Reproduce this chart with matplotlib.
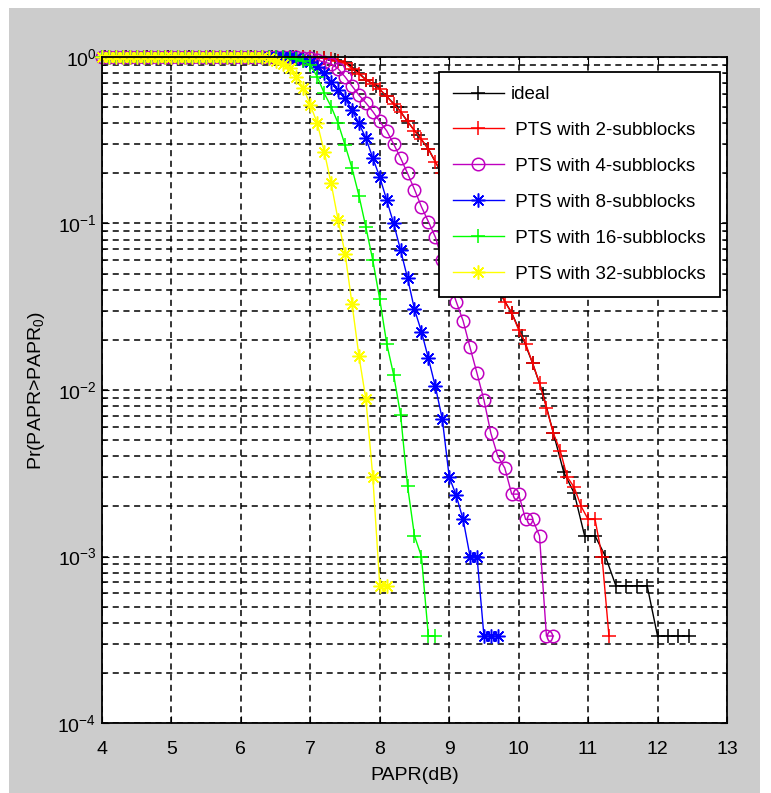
import numpy as np
import matplotlib
matplotlib.use("Agg")
import matplotlib.pyplot as plt
from matplotlib.patches import Rectangle

plt.rcParams['font.family'] = ['Liberation Sans', 'DejaVu Sans']
plt.rcParams['mathtext.default'] = 'regular'

## data (x in dB, y = Pr(PAPR>PAPR0))
# ideal curve: sampled every 0.15 dB
ideal_x = np.round(np.arange(4.05, 12.5, 0.15), 2)
ideal_y = [1.0] * 20 + [
    0.995, 0.985, 0.965, 0.935, 0.84, 0.73, 0.67, 0.58, 0.50, 0.41,
    0.34, 0.28, 0.215, 0.17, 0.13, 0.097, 0.072, 0.052, 0.037, 0.029,
    0.021, 0.0145, 0.0095, 0.0055, 0.0032, 0.0024, 0.00133, 0.00133, 0.001,
    6.67e-4, 6.67e-4, 6.67e-4, 6.67e-4, 3.33e-4, 3.33e-4, 3.33e-4, 3.33e-4]

# PTS curves: sampled every 0.1 dB starting at 4 dB
pts2_y = [1.0] * 30 + [
    0.995, 0.99, 0.98, 0.97, 0.95, 0.92, 0.85, 0.79, 0.73, 0.69,
    0.64, 0.58, 0.52, 0.47, 0.41, 0.36, 0.32, 0.28, 0.235, 0.20,
    0.17, 0.14, 0.118, 0.097, 0.08, 0.065, 0.052, 0.041, 0.034, 0.029,
    0.023, 0.019, 0.0145, 0.011, 0.0078, 0.0055, 0.0043, 0.0030, 0.0026, 0.0020,
    0.00167, 0.00167, 0.001, 3.33e-4]
pts4_y = [1.0] * 28 + [
    0.995, 0.99, 0.98, 0.96, 0.93, 0.91, 0.85, 0.76, 0.67, 0.59,
    0.53, 0.47, 0.41, 0.36, 0.30, 0.247, 0.20, 0.16, 0.126, 0.1025,
    0.083, 0.060, 0.045, 0.034, 0.026, 0.018, 0.0126, 0.0087, 0.0055, 0.0040,
    0.0034, 0.00237, 0.00237, 0.00167, 0.00167, 0.00133, 3.33e-4, 3.33e-4]
pts8_y = [1.0] * 27 + [
    0.995, 0.985, 0.965, 0.93, 0.875, 0.80, 0.71, 0.634, 0.565, 0.48,
    0.40, 0.325, 0.247, 0.19, 0.138, 0.100, 0.069, 0.047, 0.0305, 0.0224,
    0.0155, 0.0105, 0.0067, 0.0030, 0.00233, 0.00167, 0.001, 0.001,
    3.33e-4, 3.33e-4, 3.33e-4]
pts16_y = [1.0] * 26 + [
    0.995, 0.985, 0.97, 0.94, 0.895, 0.76, 0.605, 0.503, 0.40, 0.296,
    0.215, 0.147, 0.095, 0.060, 0.035, 0.019, 0.0123, 0.0071, 0.00265, 0.00133,
    0.001, 3.33e-4, 3.33e-4]
pts32_y = [1.0] * 23 + [
    0.995, 0.985, 0.94, 0.91, 0.86, 0.76, 0.65, 0.515, 0.40, 0.27,
    0.174, 0.105, 0.066, 0.033, 0.016, 0.0088, 0.0030, 6.67e-4, 6.67e-4]

labels = ['ideal', ' PTS with 2-subblocks', ' PTS with 4-subblocks',
          ' PTS with 8-subblocks', ' PTS with 16-subblocks', ' PTS with 32-subblocks']

asterisk = (8, 2, 0)

## make figure
fig = plt.figure(figsize=(7.71, 7.93), dpi=100)
fig.patch.set_facecolor('white')
fig.add_artist(Rectangle((9 / 771, 0), 751 / 771, 785 / 793, transform=fig.transFigure,
                         facecolor='#cccccc', edgecolor='none', zorder=-10))

ax = fig.add_axes([102 / 771, 70 / 793, 625 / 771, 666 / 793])
ax.set_facecolor('white')

series = [(ideal_y, 'k', '+', 10), (pts2_y, 'r', '+', 10), (pts4_y, 'm', 'o', 9),
          (pts8_y, 'b', asterisk, 10), (pts16_y, '#00ff00', '+', 10), (pts32_y, '#ffff00', asterisk, 10)]

for i, (yy, col, mk, ms) in enumerate(series):
    if i == 0:
        xx = ideal_x
    else:
        xx = np.round(4.0 + 0.1 * np.arange(len(yy)), 2)
    ax.plot(xx, yy, color=col, marker=mk, markersize=ms, markerfacecolor='none',
            markeredgewidth=1.1, linewidth=1.0, label=labels[i], clip_on=False)

ax.set_yscale('log')
ax.set_xlim(4, 13)
ax.set_ylim(1e-4, 1)
ax.set_xticks(range(4, 14))

dash = (0, (4, 3))
ax.grid(True, which='major', axis='both', linestyle=dash, color='k', linewidth=1.1)
ax.grid(True, which='minor', axis='y', linestyle=dash, color='k', linewidth=1.1)
ax.tick_params(which='both', direction='in', top=True, right=True, labelsize=14)
ax.tick_params(which='major', length=5)
ax.tick_params(which='minor', length=3)
ax.tick_params(axis='x', pad=13)
ax.tick_params(axis='y', pad=4)
for sp in ax.spines.values():
    sp.set_linewidth(1.3)

ax.set_xlabel('PAPR(dB)', fontsize=14, va='top')
ax.xaxis.set_label_coords(0.5, -0.066)
ax.set_ylabel('Pr(PAPR>PAPR$_0$)', fontsize=14)
ax.yaxis.set_label_coords(-0.088, 0.5)

leg = ax.legend(loc='upper right', bbox_to_anchor=(0.9888, 0.9775), borderaxespad=0,
                fancybox=False, edgecolor='k', framealpha=1, fontsize=13.5,
                handlelength=2.7, handletextpad=0.35, labelspacing=1.0, borderpad=0.75)
leg.get_frame().set_linewidth(1.3)

fig.savefig('out.png', dpi=100, facecolor=fig.get_facecolor())
